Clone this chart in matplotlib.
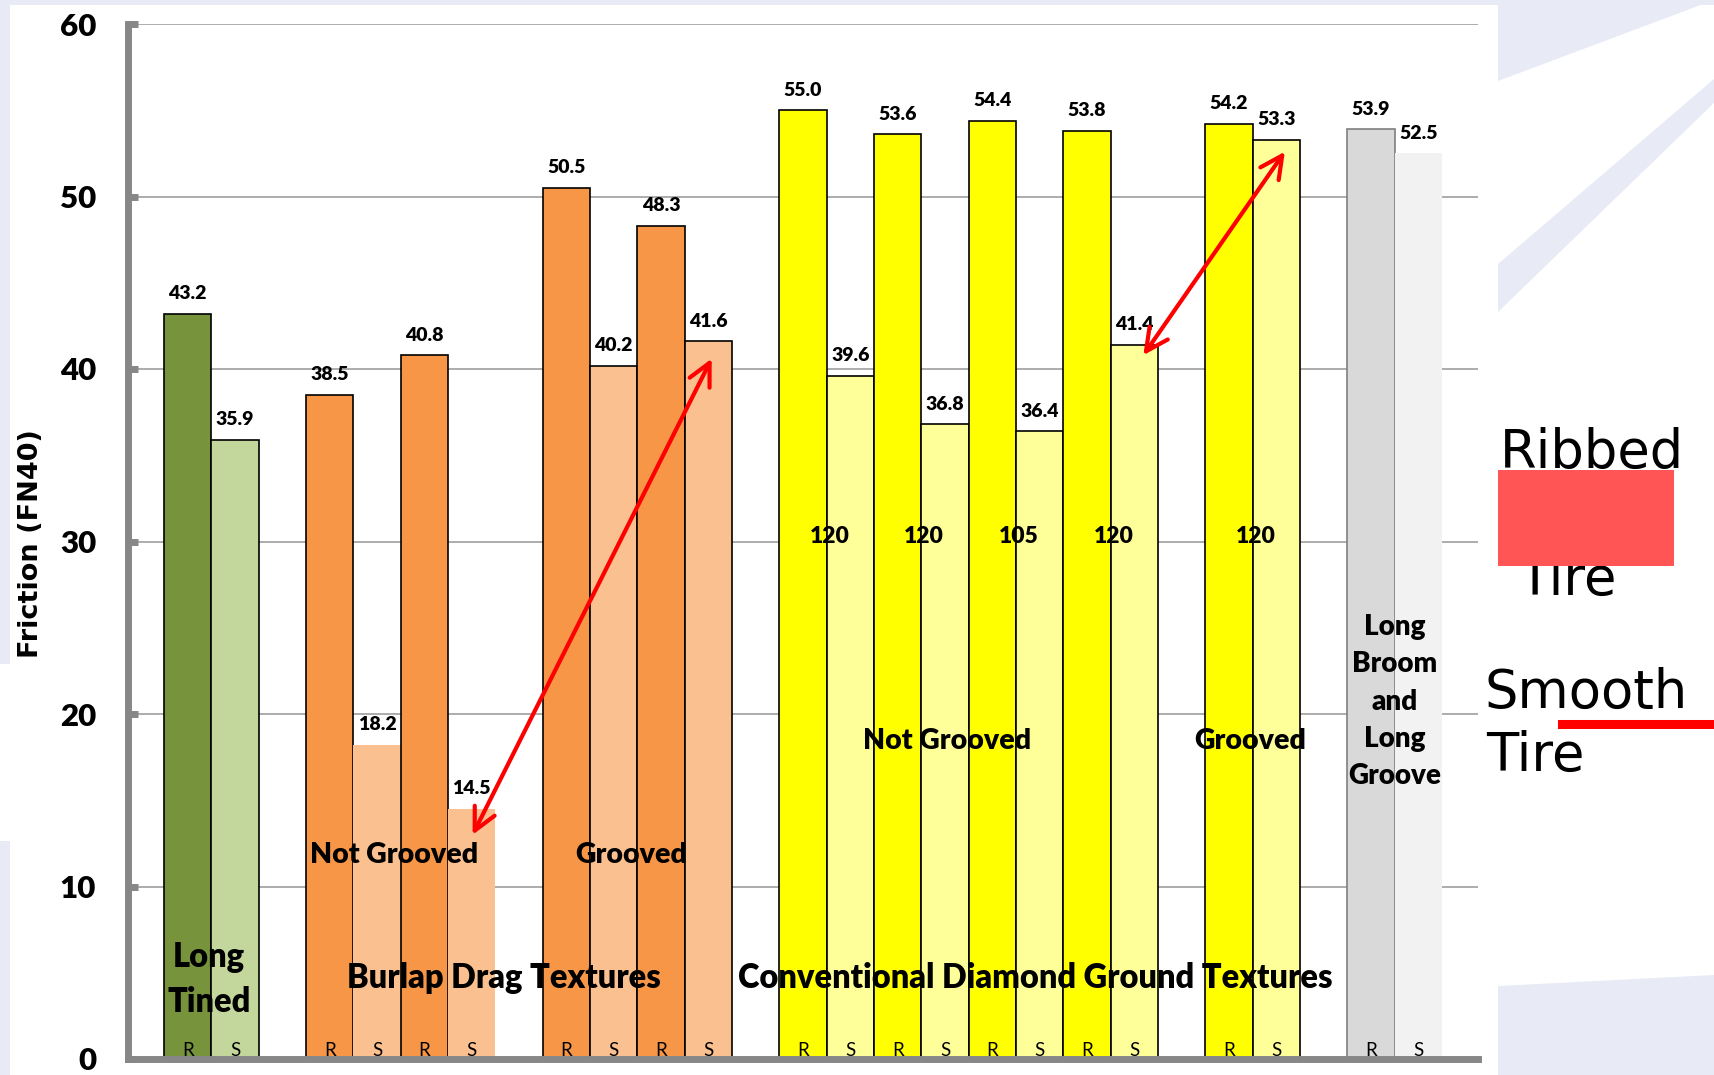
import matplotlib.pyplot as plt
from matplotlib.patches import Rectangle, Polygon
from matplotlib.lines import Line2D

plt.rcParams['font.family'] = ['Lato', 'DejaVu Sans']

# friction number FN40, each texture as a ribbed (R) / smooth (S) tire pair
values = [43.2, 35.9,
          38.5, 18.2, 40.8, 14.5,
          50.5, 40.2, 48.3, 41.6,
          55.0, 39.6, 53.6, 36.8, 54.4, 36.4, 53.8, 41.4,
          54.2, 53.3,
          53.9, 52.5]
tires = ['R', 'S'] * 11
group_sizes = [2, 4, 4, 8, 2, 2]
ribbed_colors = ['#77933C', '#F79646', '#F79646', '#FFFF00', '#FFFF00', '#D9D9D9']
smooth_colors = ['#C3D69B', '#FAC090', '#FAC090', '#FFFF99', '#FFFF99', '#F2F2F2']
blade_labels = ['120', '120', '105', '120', '120']
yticks = [0, 10, 20, 30, 40, 50, 60]
ytick_labels = ['0', '10', '20', '30', '40', '50', '60']

W, H = 1714, 1075
lavender = '#E8EBF5'
heavy = 'heavy'


def fx(x):
    return x / W


def fy(y):
    return 1 - y / H


def shape(pts, color, z):
    return Polygon([(fx(x), fy(y)) for x, y in pts], closed=True, transform=fig.transFigure,
                   facecolor=color, edgecolor='none', zorder=z)


fig = plt.figure(figsize=(W / 100, H / 100), dpi=100, facecolor=lavender)

###slide background
fig.add_artist(shape([(10, 5), (W, 5), (W, H), (10, H)], 'white', -3))
fig.add_artist(shape([(0, 664), (10, 664), (10, 841), (0, 841)], 'white', -3))
fig.add_artist(shape([(1498, 0), (W, 0), (1498, 81)], lavender, -2))
fig.add_artist(shape([(1498, 264), (W, 79), (W, 103), (1498, 312)], lavender, -2))
fig.add_artist(shape([(1498, 986), (W, 975), (W, H), (1498, H)], lavender, -2))

ax = fig.add_axes([fx(128), fy(1059), (1478 - 128) / W, (1059 - 24) / H])
ax.patch.set_visible(False)

###bar slots, one empty slot between texture groups
slots, colors = [], []
pos = 0
for g, n in enumerate(group_sizes):
    for i in range(n):
        slots.append(pos + i)
        colors.append(ribbed_colors[g] if i % 2 == 0 else smooth_colors[g])
    pos += n + 1

edges = ['black'] * len(values)
edges[3] = edges[5] = edges[21] = 'none'
edges[20] = '#7F7F7F'

ax.bar(slots, values, width=1, align='edge', color=colors, edgecolor=edges, linewidth=1.2, zorder=2)

for s, v, t in zip(slots, values, tires):
    ax.annotate(f'{v:.1f}', (s + 0.5, v), xytext=(0, 10.5), textcoords='offset points',
                ha='center', va='baseline', fontsize=14, fontweight=heavy, zorder=4)
    ax.annotate(t, (s + 0.5, 0), xytext=(0, 2.5), textcoords='offset points',
                ha='center', va='baseline', fontsize=13.5, zorder=4)

# blade spacing, written across each diamond ground R/S pair
for k, lab in enumerate(blade_labels):
    s = slots[10 + 2 * k] + 1
    ax.text(s + 0.06, 29.9, lab, ha='center', va='baseline', fontsize=16.5, fontweight=heavy, zorder=4)

bold = dict(ha='center', va='baseline', fontweight=heavy, zorder=4)
ax.text(4.86, 11.35, 'Not Grooved', fontsize=20.5, **bold)
ax.text(9.87, 11.35, 'Grooved', fontsize=20.5, **bold)
ax.text(16.55, 17.95, 'Not Grooved', fontsize=20.5, **bold)
ax.text(22.94, 17.95, 'Grooved', fontsize=20.5, **bold)
ax.text(7.19, 4.11, 'Burlap Drag Textures', fontsize=23.5, **bold)
ax.text(18.4, 4.11, 'Conventional Diamond Ground Textures', fontsize=23.5, **bold)
for i, line in enumerate(['Long', 'Tined']):
    ax.text(0.95, 5.33 - i * 2.6, line, fontsize=23.5, **bold)
for i, line in enumerate(['Long', 'Broom', 'and', 'Long', 'Groove']):
    ax.text(26.0, 24.6 - i * 2.17, line, fontsize=20, **bold)

###red comparison arrows
arrows = [((6.52, 13.0), (11.57, 40.6)), ((20.69, 40.8), (23.68, 52.6))]
for a, b in arrows:
    ax.annotate('', xy=b, xytext=a, zorder=5,
                arrowprops=dict(arrowstyle='<->,head_length=0.8,head_width=0.4', mutation_scale=20,
                                color='#FF0000', lw=3, shrinkA=0, shrinkB=0))

###axes
ax.set_xlim(-0.761, 27.76)
ax.set_ylim(0, 60)
ax.set_yticks(yticks)
ax.set_yticklabels(ytick_labels, fontsize=22.5, fontweight=heavy)
ax.set_xticks([])
ax.tick_params(axis='y', direction='in', length=7, width=5, color='#878787', pad=23)
for side in ['top', 'right']:
    ax.spines[side].set_visible(False)
for side in ['left', 'bottom']:
    ax.spines[side].set_color('#878787')
    ax.spines[side].set_linewidth(5)
ax.set_axisbelow(True)
ax.yaxis.grid(True, color='#A6A6A6', lw=1.3)

fig.text(fx(31), fy(544), 'Friction (FN40)', rotation=90, ha='center', va='center',
         family='DejaVu Sans', fontweight='bold', fontsize=19.5)

###tire key on the right
fig.add_artist(Rectangle((fx(1498), fy(566)), (1674 - 1498) / W, (566 - 470) / H,
                         transform=fig.transFigure, facecolor='#FF5555', edgecolor='none', zorder=6))
key = dict(family='DejaVu Sans', fontsize=38, ha='left', va='baseline', zorder=5)
fig.text(fx(1500), fy(468), 'Ribbed', **key)
fig.text(fx(1518), fy(595), 'Tire', **key)
fig.text(fx(1484), fy(708), 'Smooth', **key)
fig.text(fx(1486), fy(771), 'Tire', **key)
fig.add_artist(Line2D([fx(1562), fx(W)], [fy(724), fy(724)], transform=fig.transFigure,
                      color='#FF0000', lw=6.5, zorder=6))

plt.savefig('out.png', dpi=100, facecolor=fig.get_facecolor())
